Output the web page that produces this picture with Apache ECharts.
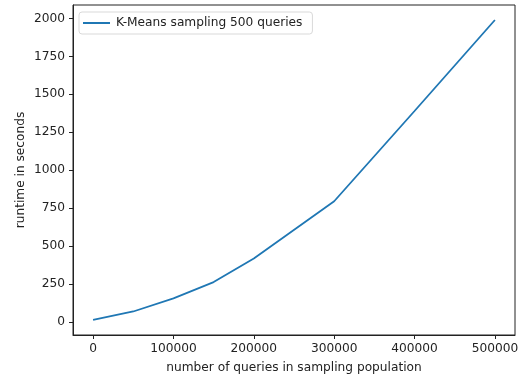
<!DOCTYPE html>
<html>
<head>
<meta charset="utf-8">
<script src="https://cdn.jsdelivr.net/npm/echarts@6/dist/echarts.min.js"></script>
<style>
  html, body { margin: 0; padding: 0; background: #fff; }
  #chart { width: 519px; height: 375px; }
</style>
</head>
<body>
<div id="chart"></div>
<script>
// number of queries in the sampling population
const queries = [0, 50000, 100000, 150000, 200000, 300000, 400000, 500000]
// runtime in seconds
const runtime = [12, 68, 155, 262, 418, 795, 1390, 1990]
const xTicks = [0, 100000, 200000, 300000, 400000, 500000]
const yTicks = [0, 250, 500, 750, 1000, 1250, 1500, 1750, 2000]
const seriesName = 'K-Means sampling 500 queries'

const font = 'DejaVu Sans'
const ink = '#222222'
const size = 12.2

const chart = echarts.init(document.getElementById('chart'))

const axisCommon = {
  axisLine: { show: true, onZero: false, lineStyle: { color: ink, width: 1 } },
  axisTick: { show: true, inside: false, length: 4, lineStyle: { color: ink } },
  splitLine: { show: false },
  nameLocation: 'middle',
  nameMoveOverlap: false,
  nameTextStyle: { fontFamily: font, fontSize: size, color: ink }
}

const plain = v => String(v)

chart.setOption({
  animation: false,
  grid: {
    left: 73, right: 4, top: 5, bottom: 40,
    outerBoundsMode: 'none',
    show: true, borderColor: ink, borderWidth: 1, backgroundColor: '#fff'
  },
  legend: {
    left: 79, top: 12,
    data: [seriesName],
    icon: 'rect',
    itemWidth: 27, itemHeight: 2,
    itemGap: 8,
    padding: [5, 10, 5, 4],
    backgroundColor: '#fff',
    borderColor: '#d9d9d9', borderWidth: 1, borderRadius: 3,
    textStyle: { fontFamily: font, fontSize: size, color: ink, padding: [0, 0, 0, 1] }
  },
  xAxis: Object.assign({}, axisCommon, {
    type: 'value',
    min: -25000, max: 525000,
    name: 'number of queries in sampling population',
    nameGap: 27,
    axisTick: Object.assign({}, axisCommon.axisTick, { customValues: xTicks }),
    axisLabel: { customValues: xTicks, formatter: plain, fontFamily: font, fontSize: size, color: ink, margin: 8 }
  }),
  yAxis: Object.assign({}, axisCommon, {
    type: 'value',
    min: -87, max: 2089,
    name: 'runtime in seconds',
    nameGap: 46,
    axisTick: Object.assign({}, axisCommon.axisTick, { customValues: yTicks }),
    axisLabel: { customValues: yTicks, formatter: plain, fontFamily: font, fontSize: size, color: ink, margin: 8 }
  }),
  series: [{
    name: seriesName,
    type: 'line',
    data: queries.map((q, i) => [q, runtime[i]]),
    showSymbol: false,
    symbol: 'none',
    lineStyle: { color: '#1f77b4', width: 1.8 },
    itemStyle: { color: '#1f77b4' }
  }]
})
</script>
</body>
</html>
